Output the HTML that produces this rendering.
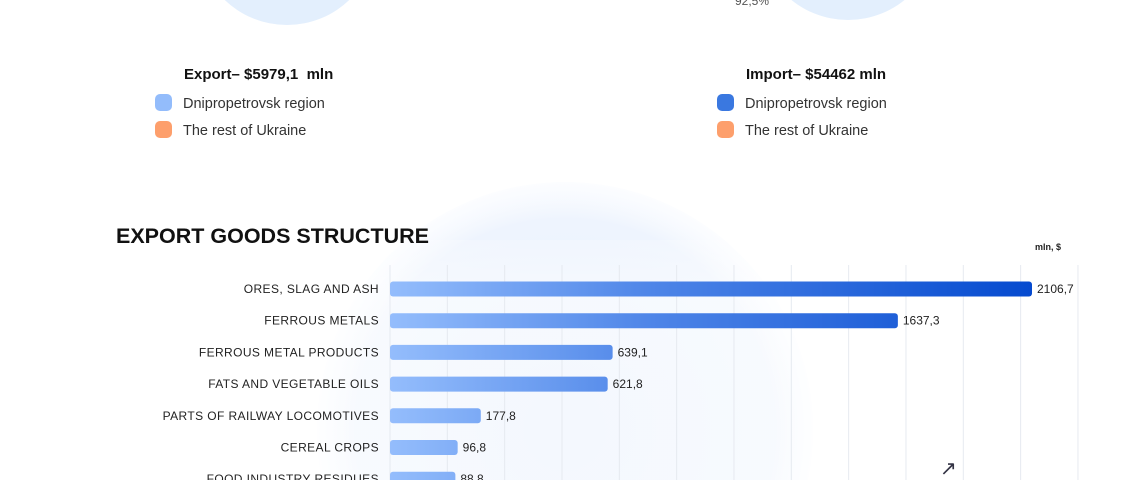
<!DOCTYPE html>
<html><head><meta charset="utf-8"><style>
html,body{margin:0;width:1131px;height:480px;overflow:hidden;background:#fff;font-family:"Liberation Sans",sans-serif;position:relative}
.abs{position:absolute}
.lg{font-size:14.5px;color:#333}
.sw{width:17px;height:17px;border-radius:5px;display:inline-block}
</style></head><body>
<svg class="abs" style="left:0;top:0" width="1131" height="480">
<defs>
<radialGradient id="blob" cx="0.5" cy="0.5" r="0.5"><stop offset="0" stop-color="#e6effd"/><stop offset="0.85" stop-color="#eef4fe"/><stop offset="1" stop-color="#f7faff" stop-opacity="0.4"/></radialGradient>
<linearGradient id="card" x1="0" y1="0" x2="0" y2="1"><stop offset="0" stop-color="#fff" stop-opacity="0.2"/><stop offset="0.25" stop-color="#fff" stop-opacity="0.55"/></linearGradient>
</defs>
<circle cx="287" cy="-65" r="90" fill="#e3effd"/>
<circle cx="848" cy="-70" r="90" fill="#e3effd"/>
<text x="735" y="5" font-size="12" fill="#555">92,5%</text>
<circle cx="565" cy="430" r="248" fill="url(#blob)"/>
<rect x="38" y="240" width="1055" height="240" fill="url(#card)"/>
</svg>
<div class="abs" style="left:184px;top:66px;font-weight:bold;font-size:15px;color:#111">Export– $5979,1&nbsp; mln</div>
<div class="abs lg" style="left:155px;top:94px"><span class="sw" style="background:#93bcfb;vertical-align:-3px;margin-right:11px"></span>Dnipropetrovsk region</div>
<div class="abs lg" style="left:155px;top:121px"><span class="sw" style="background:#fd9f6c;vertical-align:-3px;margin-right:11px"></span>The rest of Ukraine</div>
<div class="abs" style="left:746px;top:66px;font-weight:bold;font-size:15px;color:#111">Import– $54462 mln</div>
<div class="abs lg" style="left:717px;top:94px"><span class="sw" style="background:#3a78e0;vertical-align:-3px;margin-right:11px"></span>Dnipropetrovsk region</div>
<div class="abs lg" style="left:717px;top:121px"><span class="sw" style="background:#fd9f6c;vertical-align:-3px;margin-right:11px"></span>The rest of Ukraine</div>
<div class="abs" style="left:116px;top:224px;font-weight:bold;font-size:21.5px;color:#111">EXPORT GOODS STRUCTURE</div>
<div class="abs" style="left:1035px;top:242px;font-weight:bold;font-size:9px;color:#222">mln, $</div>
<svg id="chart" class="abs" style="left:0;top:0" width="1131" height="480">
<defs><linearGradient id="bg" gradientUnits="userSpaceOnUse" x1="390" y1="0" x2="1032" y2="0"><stop offset="0" stop-color="#94bdfc"/><stop offset="0.4" stop-color="#4f86e8"/><stop offset="1" stop-color="#054acf"/></linearGradient></defs>
</svg>
<div class="abs" style="left:940px;top:458px;width:24px;height:22px;overflow:hidden;font-size:20px;line-height:22px;color:#334">↗</div>
<script>
const categories=["ORES, SLAG AND ASH","FERROUS METALS","FERROUS METAL PRODUCTS","FATS AND VEGETABLE OILS","PARTS OF RAILWAY LOCOMOTIVES","CEREAL CROPS","FOOD INDUSTRY RESIDUES"];
const values=[2106.7,1637.3,639.1,621.8,177.8,96.8,88.8];
const labels=["2106,7","1637,3","639,1","621,8","177,8","96,8","88,8"];
const NS="http://www.w3.org/2000/svg",svg=document.getElementById('chart');
const x0=390,maxV=Math.max(...values);
function xw(v){return 40+v*(602/maxV);}
function yc(i){return 289+i*31.7;}
for(let g=0;g<=12;g++){const l=document.createElementNS(NS,'line');const gx=390+g*57.33;
l.setAttribute('x1',gx);l.setAttribute('x2',gx);l.setAttribute('y1',265);l.setAttribute('y2',480);l.setAttribute('stroke','#e6eaf0');l.setAttribute('stroke-width','1');


svg.appendChild(l);}
values.forEach((v,i)=>{const y=yc(i);
const t=document.createElementNS(NS,'text');t.setAttribute('x',379);t.setAttribute('y',y+4);t.setAttribute('text-anchor','end');t.setAttribute('font-size','12');t.setAttribute('fill','#222');t.setAttribute('letter-spacing','0.4');t.textContent=categories[i];


svg.appendChild(t);
const r=document.createElementNS(NS,'rect');r.setAttribute('x',x0);r.setAttribute('y',y-7.5);r.setAttribute('width',xw(v));r.setAttribute('height',15);r.setAttribute('rx',3);r.setAttribute('fill','url(#bg)');


svg.appendChild(r);
const vt=document.createElementNS(NS,'text');vt.setAttribute('x',x0+xw(v)+5);vt.setAttribute('y',y+4);vt.setAttribute('font-size','12');vt.setAttribute('fill','#222');vt.textContent=labels[i];


svg.appendChild(vt);});
</script>
</body></html>
